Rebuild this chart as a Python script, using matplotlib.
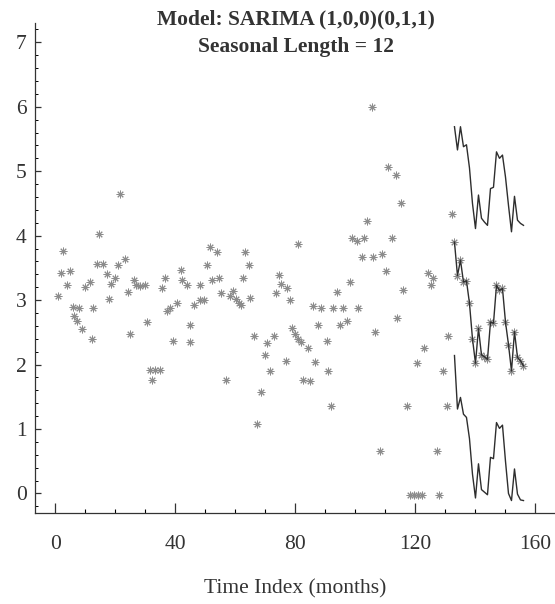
import matplotlib
matplotlib.use("Agg")
import matplotlib.pyplot as plt
from matplotlib.ticker import MultipleLocator

# observed series (month index, value)
obs_t = [0.9, 2.0, 2.4, 3.9, 5.0, 5.8, 6.1, 7.2, 8.0, 8.9, 10.0, 11.4, 12.2, 12.6,
         13.9, 14.7, 15.9, 17.2, 18.0, 18.7, 20.0, 20.8, 21.7, 23.3, 24.1, 25.0,
         26.1, 27.0, 28.3, 30.0, 30.6, 31.4, 32.2, 33.3, 34.8, 35.6, 36.7, 37.2,
         38.1, 39.2, 40.6, 41.7, 42.2, 43.7, 44.7, 45.0, 46.3, 48.1, 48.1, 49.4,
         50.6, 51.4, 52.2, 53.7, 54.4, 55.2, 56.7, 58.1, 59.2, 60.3, 61.1, 62.0,
         62.4, 63.3, 64.4, 65.0, 66.1, 67.2, 68.6, 69.8, 70.6, 71.4, 72.8, 73.6,
         74.4, 75.2, 76.9, 77.2, 78.2, 78.7, 79.9, 81.0, 81.0, 81.9, 82.6, 84.3,
         84.9, 86.0, 86.5, 87.6, 88.5, 90.4, 91.0, 91.9, 92.6, 93.7, 94.9, 96.0,
         97.1, 98.2, 98.7, 100.4, 101.0, 102.1, 102.9, 103.7, 105.4, 106.0, 106.5,
         108.2, 109.0, 110.1, 111.0, 112.1, 113.4, 113.7, 115.2, 116.0, 117.1,
         118.2, 119.5, 120.8, 122.1, 120.4, 122.9, 124.1, 125.2, 126.0, 127.1,
         128.0, 129.1, 130.4, 131.0, 132.1]
obs_v = [3.06, 3.42, 3.76, 3.23, 3.45, 2.90, 2.76, 2.67, 2.88, 2.55, 3.20, 3.28, 2.39, 2.88,
         3.56, 4.02, 3.56, 3.40, 3.02, 3.25, 3.34, 3.55, 4.65, 3.64, 3.12, 2.47,
         3.31, 3.23, 3.22, 3.23, 2.66, 1.91, 1.76, 1.91, 1.91, 3.18, 3.34, 2.83,
         2.88, 2.37, 2.96, 3.46, 3.31, 3.23, 2.35, 2.62, 2.92, 3.00, 3.23, 3.00,
         3.55, 3.83, 3.31, 3.75, 3.35, 3.11, 1.76, 3.06, 3.14, 3.02, 2.96, 2.92,
         3.34, 3.75, 3.55, 3.03, 2.44, 1.07, 1.58, 2.15, 2.34, 1.90, 2.45, 3.11,
         3.39, 3.25, 2.06, 3.18, 3.00, 2.56, 2.48, 3.87, 2.40, 2.35, 1.76, 2.26,
         1.75, 2.91, 2.04, 2.61, 2.88, 2.37, 1.90, 1.35, 2.87, 3.12, 2.61, 2.87,
         2.68, 3.28, 3.96, 3.92, 2.87, 3.67, 3.97, 4.22, 5.99, 3.67, 2.51,
         0.66, 3.72, 3.45, 5.06, 3.96, 4.94, 2.73, 4.51, 3.16, 1.35,
         -0.03, -0.03, -0.03, -0.03, 2.02, 2.26, 3.42, 3.23, 3.34, 0.66,
         -0.03, 1.90, 1.35, 2.44, 4.34]

# forecast horizon
fc_t = list(range(133, 157))
fc_mid = [3.90, 3.38, 3.62, 3.28, 3.30, 2.95, 2.40, 2.02, 2.56, 2.15, 2.12, 2.08,
          2.66, 2.64, 3.23, 3.15, 3.18, 2.66, 2.31, 1.90, 2.51, 2.11, 2.06, 1.98]
fc_up = [5.69, 5.33, 5.69, 5.38, 5.41, 5.05, 4.50, 4.11, 4.63, 4.27, 4.21, 4.16,
         4.73, 4.75, 5.30, 5.20, 5.25, 4.91, 4.47, 4.06, 4.61, 4.24, 4.19, 4.16]
fc_lo = [2.14, 1.31, 1.49, 1.23, 1.18, 0.85, 0.30, -0.07, 0.46, 0.06, 0.02, -0.02,
         0.56, 0.54, 1.10, 1.01, 1.06, 0.50, 0.00, -0.11, 0.38, -0.01, -0.10, -0.11]

plt.rcParams["font.family"] = ["Liberation Serif", "DejaVu Serif"]

fig = plt.figure(figsize=(5.55, 6.04), dpi=100)
ax = fig.add_axes([0.063, 0.151, 0.937, 0.811])

star = (8, 2, 0)
ax.plot(obs_t, obs_v, ls="none", marker=star, ms=5.5, mew=0.7, color="#8c8c8c")
ax.plot(fc_t, fc_mid, ls="none", marker=star, ms=5.5, mew=0.7, color="#8c8c8c")
for s in (fc_up, fc_mid, fc_lo):
    ax.plot(fc_t, s, color="#2e2e2e", lw=1.0)

ax.set_xlim(-6.8, 166.5)
ax.set_ylim(-0.3, 7.3)
ax.xaxis.set_major_locator(MultipleLocator(40))
ax.xaxis.set_minor_locator(MultipleLocator(10))
ax.yaxis.set_major_locator(MultipleLocator(1))
ax.yaxis.set_minor_locator(MultipleLocator(0.2))

for side in ("top", "right"):
    ax.spines[side].set_visible(False)
for side in ("left", "bottom"):
    ax.spines[side].set_linewidth(0.9)
    ax.spines[side].set_color("#333333")

ax.tick_params(axis="x", which="major", direction="in", length=7, width=0.9,
               pad=16, labelsize=15.5, colors="#333333")
ax.tick_params(axis="x", which="minor", direction="in", length=3, width=0.8)
ax.tick_params(axis="y", which="major", direction="in", length=4, width=0.9,
               pad=6, labelsize=15.5, colors="#333333")
ax.tick_params(axis="y", which="minor", direction="in", length=2.5, width=0.7)

ax.set_xlabel("Time Index (months)", fontsize=15.5, labelpad=18, color="#333333")

fig.text(0.533, 0.968, "Model: SARIMA (1,0,0)(0,1,1)", ha="center", va="center",
         fontsize=15.5, fontweight="bold", color="#333333")
fig.text(0.533, 0.923, "Seasonal Length = 12", ha="center", va="center",
         fontsize=15.5, fontweight="bold", color="#333333")

fig.savefig("out.png", dpi=100)
